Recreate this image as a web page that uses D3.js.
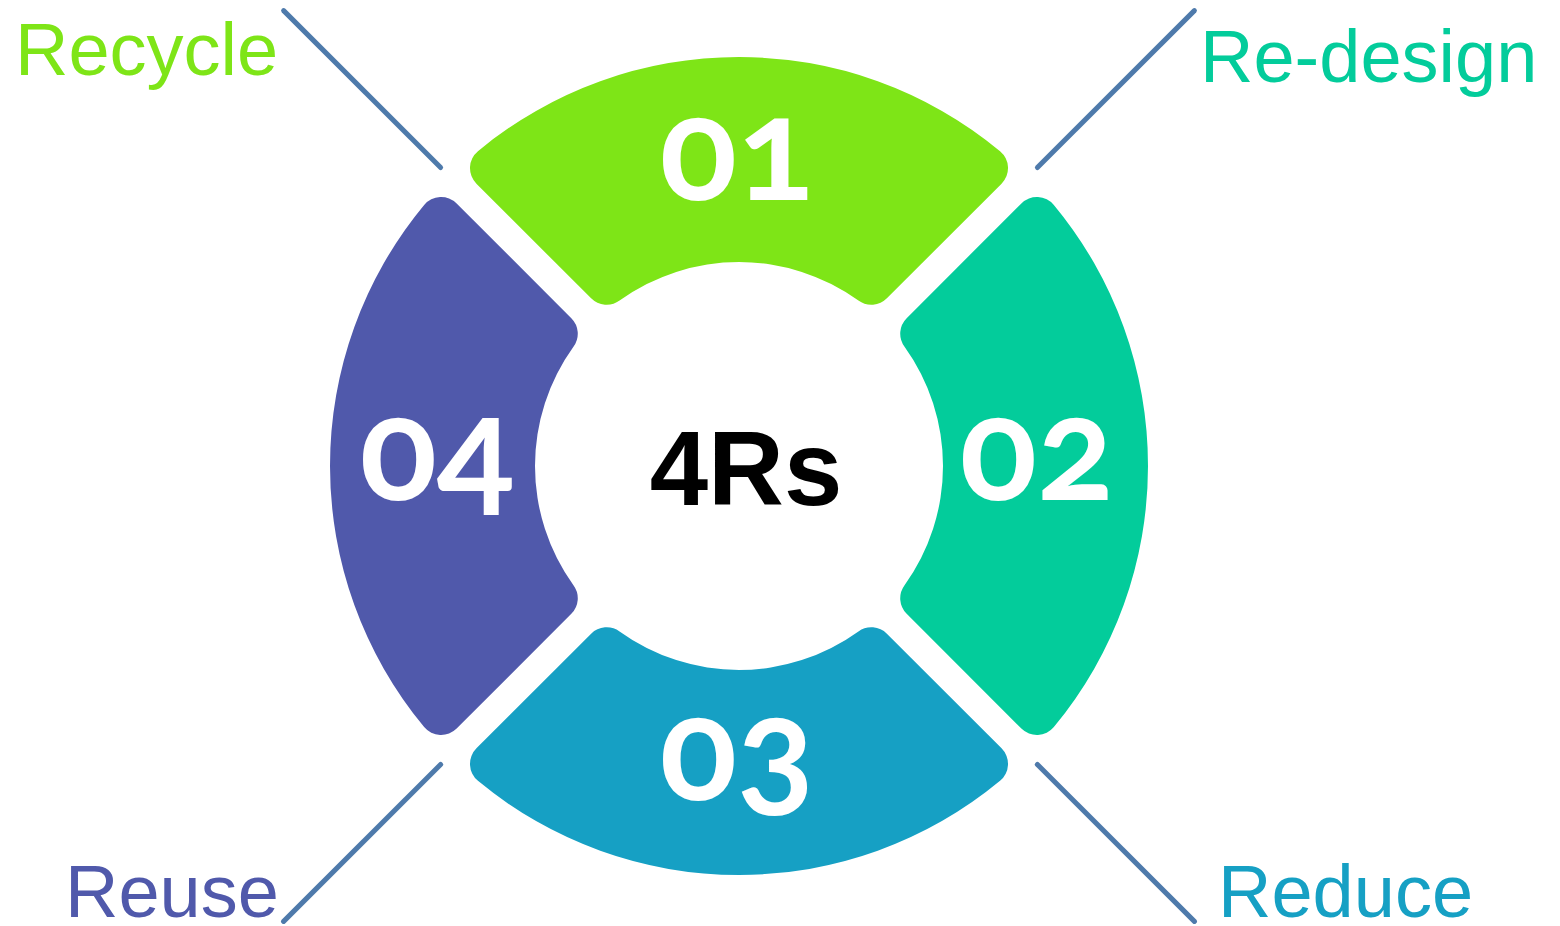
<!DOCTYPE html>
<html>
<head>
<meta charset="utf-8">
<script src="https://cdnjs.cloudflare.com/ajax/libs/d3/7.8.5/d3.min.js"></script>
<style>
	body { margin: 0; background: #fff; }
	svg#chart { display: block; }
	.num { font-family: Lato, "Open Sans", sans-serif; font-weight: 700; font-variant-numeric: oldstyle-nums; fill: #fff; }
	.lbl { font-family: "Liberation Sans", Arial, sans-serif; }
</style>
</head>
<body>
<svg id="chart" width="1560" height="926"></svg>
<script>
	// the four steps, clockwise from the top
	var numbers = ["01", "02", "03", "04"];
	var names = ["Recycle", "Re-design", "Reduce", "Reuse"];
	var colors = ["#7ee517", "#03cc9b", "#16a0c4", "#5059ab"];
	var centerText = "4Rs";

	var w = 1560, h = 926,
		cx = 739, cy = 466;

	var svg = d3.select("#chart");
	var g = svg.append("g").attr("transform", "translate(" + cx + "," + cy + ")");

	// equal slices, rotated so that the first one sits on top
	var pie = d3.pie().value(function(){ return 1; }).sort(null)
		.startAngle(-Math.PI / 4).endAngle(Math.PI * 7 / 4);
	var slices = pie(numbers);

	var arc = d3.arc()
		.innerRadius(204)
		.outerRadius(409)
		.padRadius(300)
		.padAngle(28 / 300)
		.cornerRadius(22);

	g.selectAll(".seg").data(slices).enter()
		.append("path")
		.attr("class", "seg")
		.attr("d", arc)
		.attr("fill", function(d, i){ return colors[i]; });

	// number labels, pulled a little toward the middle
	var numPos = d3.arc().innerRadius(300).outerRadius(300);
	g.selectAll(".num").data(slices).enter()
		.append("text")
		.attr("class", "num")
		.attr("text-anchor", "middle")
		.attr("font-size", 143)
		.attr("x", function(d){ return numPos.centroid(d)[0] - 2; })
		.attr("y", function(d){ return numPos.centroid(d)[1] + 34; })
		.text(function(d){ return d.data; });

	g.append("text")
		.attr("class", "lbl")
		.attr("text-anchor", "middle")
		.attr("font-weight", "bold")
		.attr("font-size", 105)
		.attr("x", 7)
		.attr("y", 39)
		.attr("fill", "#000")
		.text(centerText);

	// leader lines along the gaps between slices
	var gaps = slices.map(function(d){ return d.endAngle; });
	g.selectAll(".lead").data(gaps).enter()
		.append("line")
		.attr("class", "lead")
		.attr("x1", function(a){ return d3.pointRadial(a, 422)[0]; })
		.attr("y1", function(a){ return d3.pointRadial(a, 422)[1]; })
		.attr("x2", function(a){ return d3.pointRadial(a, 644)[0]; })
		.attr("y2", function(a){ return d3.pointRadial(a, 644)[1]; })
		.style("stroke", "#4e7aab")
		.style("stroke-width", 5)
		.style("stroke-linecap", "round");

	// names sit in the corners beside the leader lines
	var labelPos = [
		{x: 15, y: 75},
		{x: 1200, y: 82},
		{x: 1218, y: 917},
		{x: 65, y: 917}
	];
	svg.selectAll(".name").data(names).enter()
		.append("text")
		.attr("class", "lbl name")
		.attr("font-size", 74)
		.attr("x", function(d, i){ return labelPos[i].x; })
		.attr("y", function(d, i){ return labelPos[i].y; })
		.attr("fill", function(d, i){ return colors[i]; })
		.text(function(d){ return d; });
</script>
</body>
</html>
